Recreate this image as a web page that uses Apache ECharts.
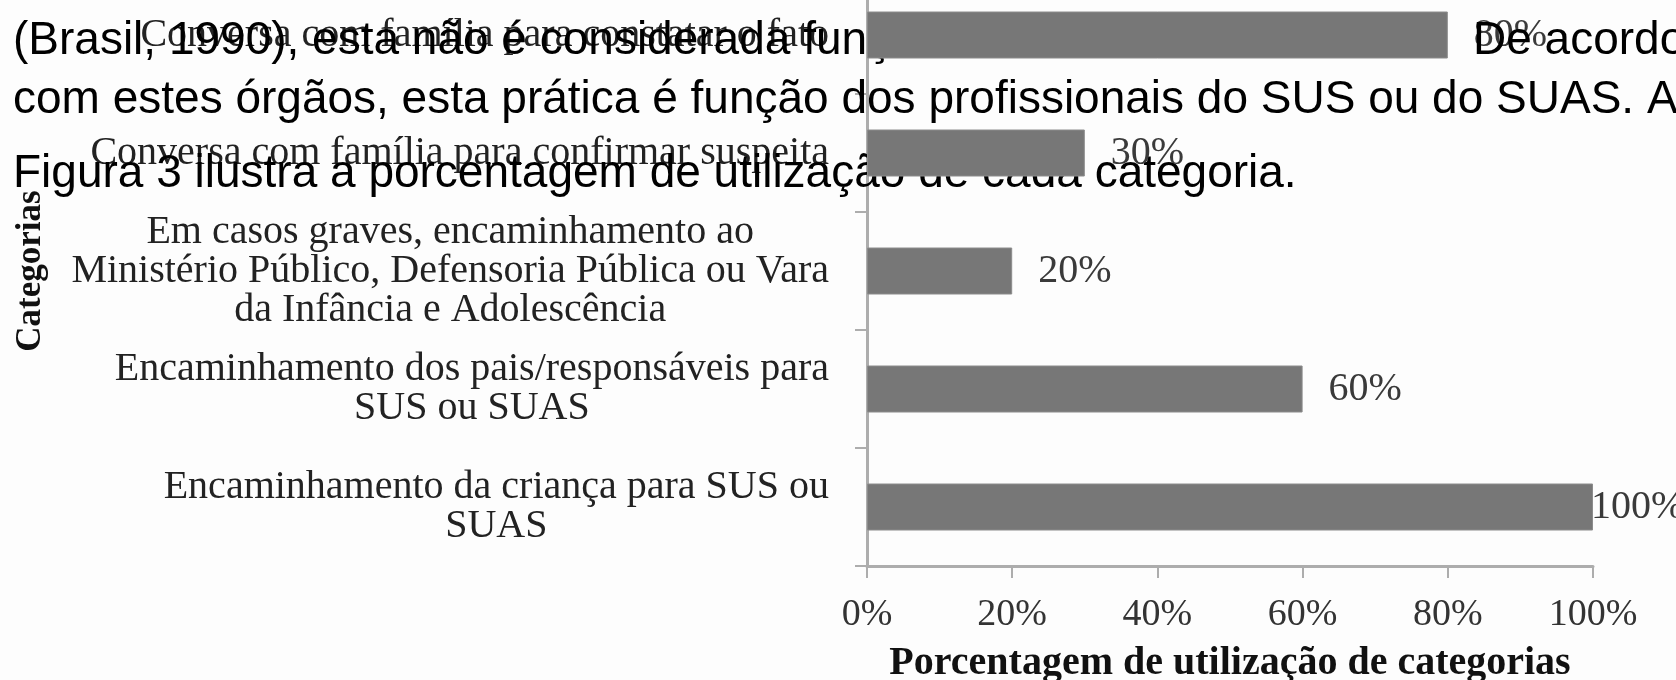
<!DOCTYPE html>
<html>
<head>
<meta charset="utf-8">
<script src="https://cdn.jsdelivr.net/npm/echarts@6/dist/echarts.min.js"></script>
<style>
html,body{margin:0;padding:0;background:#fdfdfd;}
#chart{width:1676px;height:680px;}
</style>
</head>
<body>
<div id="chart"></div>
<script>
// Categories, top to bottom
const categories = [
  'Conversa com família para constatar o fato',
  'Conversa com família para confirmar suspeita',
  'Em casos graves, encaminhamento ao\nMinistério Público, Defensoria Pública ou Vara\nda Infância e Adolescência',
  'Encaminhamento dos pais/responsáveis para\nSUS ou SUAS',
  'Encaminhamento da criança para SUS ou\nSUAS'
];
// Percentage of use of each category
const values = [80, 30, 20, 60, 100];
// Value axis ticks
const xMin = 0, xMax = 100, xStep = 20;
const xAxisName = 'Porcentagem de utilização de categorias';
const yAxisName = 'Categorias';
// Overlapping body text of the document
const textLine1a = '(Brasil, 1990), esta não é considerada função';
const textLine1b = 'De acordo';
const textLine2 = 'com estes órgãos, esta prática é função dos profissionais do SUS ou do SUAS. A';
const textLine3 = 'Figura 3 ilustra a porcentagem de utilização de cada categoria.';

const serif = '"Liberation Serif", "Times New Roman", serif';
const sans = '"Liberation Sans", Arial, sans-serif';

const chart = echarts.init(document.getElementById('chart'), null, {renderer: 'canvas'});

const seriesData = values.map(v => ({
  value: v,
  label: {distance: v >= xMax ? -2 : 26}
}));

function txt(t, x, y, z) {
  return {
    type: 'text', x: x, y: y, z: z || 1, silent: true,
    style: {text: t, font: '46px ' + sans, fill: '#000', verticalAlign: 'middle', align: 'left'}
  };
}

chart.setOption({
  backgroundColor: '#fdfdfd',
  animation: false,
  grid: {left: 867, right: 83, top: -24, bottom: 114, containLabel: false, outerBoundsMode: 'none'},
  xAxis: {
    type: 'value', min: xMin, max: xMax, interval: xStep,
    name: xAxisName, nameLocation: 'middle', nameGap: 78,
    nameTextStyle: {fontFamily: serif, fontSize: 40, fontWeight: 'bold', color: '#111'},
    axisLine: {show: true, lineStyle: {color: '#adadad', width: 3}},
    axisTick: {show: true, length: 12, lineStyle: {color: '#adadad', width: 2}},
    splitLine: {show: false},
    axisLabel: {formatter: '{value}%', fontFamily: serif, fontSize: 38, color: '#333', margin: 30}
  },
  yAxis: {
    type: 'category', data: categories, inverse: true,
    name: yAxisName, nameLocation: 'middle', nameGap: 819, nameRotate: 90,
    nameTextStyle: {fontFamily: serif, fontSize: 35, fontWeight: 'bold', color: '#111'},
    axisLine: {show: true, lineStyle: {color: '#adadad', width: 3}},
    axisTick: {show: true, length: 12, lineStyle: {color: '#adadad', width: 2}},
    axisLabel: {
      margin: 38, align: 'right',
      formatter: v => v.split('\n').map(l => '{c|' + l + '}').join('\n'),
      rich: {c: {fontFamily: serif, fontSize: 40, lineHeight: 39, color: '#222', align: 'center'}}
    }
  },
  series: [{
    type: 'bar', data: seriesData, barWidth: 47, z: 2,
    itemStyle: {color: '#777777', borderColor: '#8c8c8c', borderWidth: 1},
    label: {show: true, position: 'right', formatter: '{c}%', fontFamily: serif, fontSize: 40, color: '#3a3a3a'}
  }],
  graphic: {elements: [
    txt(textLine1a, 13, 41),
    txt(textLine1b, 1473, 41, 3),
    txt(textLine2, 13, 100, 3),
    txt(textLine3, 13, 174)
  ]}
});
</script>
</body>
</html>
